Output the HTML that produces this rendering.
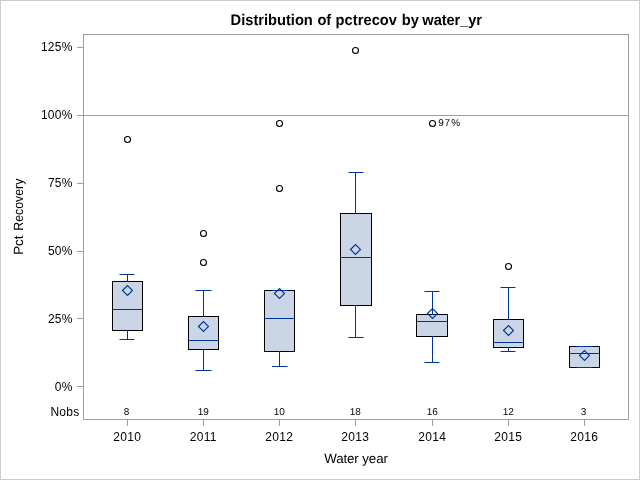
<!DOCTYPE html>
<html><head><meta charset="utf-8"><title>Distribution of pctrecov by water_yr</title>
<style>html,body{margin:0;padding:0;background:#fff;width:640px;height:480px;overflow:hidden}</style>
</head><body>
<svg width="640" height="480" viewBox="0 0 640 480" style="display:block;position:absolute;left:0;top:0">
<rect x="0" y="0" width="640" height="480" fill="#fff"/>
<rect x="0.5" y="0.5" width="639" height="479" fill="none" stroke="#CCCCCC" stroke-width="1"/>
<line x1="84" y1="115.5" x2="628" y2="115.5" stroke="#989EA1" stroke-width="1"/>
<rect x="83.5" y="34.5" width="545" height="385" fill="none" stroke="#989EA1" stroke-width="1"/>
<line x1="77" y1="47.5" x2="83" y2="47.5" stroke="#989EA1" stroke-width="1"/>
<line x1="77" y1="115.5" x2="83" y2="115.5" stroke="#989EA1" stroke-width="1"/>
<line x1="77" y1="183.5" x2="83" y2="183.5" stroke="#989EA1" stroke-width="1"/>
<line x1="77" y1="251.5" x2="83" y2="251.5" stroke="#989EA1" stroke-width="1"/>
<line x1="77" y1="318.5" x2="83" y2="318.5" stroke="#989EA1" stroke-width="1"/>
<line x1="77" y1="386.5" x2="83" y2="386.5" stroke="#989EA1" stroke-width="1"/>
<line x1="127.5" y1="420" x2="127.5" y2="425.8" stroke="#989EA1" stroke-width="1"/>
<line x1="203.5" y1="420" x2="203.5" y2="425.8" stroke="#989EA1" stroke-width="1"/>
<line x1="279.5" y1="420" x2="279.5" y2="425.8" stroke="#989EA1" stroke-width="1"/>
<line x1="355.5" y1="420" x2="355.5" y2="425.8" stroke="#989EA1" stroke-width="1"/>
<line x1="432.5" y1="420" x2="432.5" y2="425.8" stroke="#989EA1" stroke-width="1"/>
<line x1="508.5" y1="420" x2="508.5" y2="425.8" stroke="#989EA1" stroke-width="1"/>
<line x1="584.5" y1="420" x2="584.5" y2="425.8" stroke="#989EA1" stroke-width="1"/>
<rect x="112.5" y="281.5" width="30.0" height="49.0" fill="#CAD5E5" stroke="#000" stroke-width="1"/>
<line x1="112.3" y1="309.5" x2="142.7" y2="309.5" stroke="#003399" stroke-width="1"/>
<line x1="127.5" y1="274.5" x2="127.5" y2="282.0" stroke="#003399" stroke-width="1"/>
<line x1="127.5" y1="330.0" x2="127.5" y2="339.5" stroke="#003399" stroke-width="1"/>
<line x1="119.5" y1="274.5" x2="134.5" y2="274.5" stroke="#003399" stroke-width="1"/>
<line x1="119.5" y1="339.5" x2="134.5" y2="339.5" stroke="#003399" stroke-width="1"/>
<path d="M122.5 290.5L127.5 285.5L132.5 290.5L127.5 295.5Z" fill="none" stroke="#003399" stroke-width="1.12"/>
<rect x="188.5" y="316.5" width="30.0" height="33.0" fill="#CAD5E5" stroke="#000" stroke-width="1"/>
<line x1="188.3" y1="340.5" x2="218.7" y2="340.5" stroke="#003399" stroke-width="1"/>
<line x1="203.5" y1="290.5" x2="203.5" y2="317.0" stroke="#003399" stroke-width="1"/>
<line x1="203.5" y1="349.0" x2="203.5" y2="370.5" stroke="#003399" stroke-width="1"/>
<line x1="195.5" y1="290.5" x2="211.5" y2="290.5" stroke="#003399" stroke-width="1"/>
<line x1="195.5" y1="370.5" x2="211.5" y2="370.5" stroke="#003399" stroke-width="1"/>
<path d="M198.5 326.5L203.5 321.5L208.5 326.5L203.5 331.5Z" fill="none" stroke="#003399" stroke-width="1.12"/>
<rect x="264.5" y="290.5" width="30.0" height="61.0" fill="#CAD5E5" stroke="#000" stroke-width="1"/>
<line x1="264.3" y1="318.5" x2="294.7" y2="318.5" stroke="#003399" stroke-width="1"/>
<line x1="279.5" y1="351.0" x2="279.5" y2="366.5" stroke="#003399" stroke-width="1"/>
<line x1="272.0" y1="290.5" x2="287.5" y2="290.5" stroke="#003399" stroke-width="1"/>
<line x1="272.0" y1="366.5" x2="287.5" y2="366.5" stroke="#003399" stroke-width="1"/>
<path d="M274.5 293.5L279.5 288.5L284.5 293.5L279.5 298.5Z" fill="none" stroke="#003399" stroke-width="1.12"/>
<rect x="340.5" y="213.5" width="31.0" height="92.0" fill="#CAD5E5" stroke="#000" stroke-width="1"/>
<line x1="340.3" y1="257.5" x2="371.7" y2="257.5" stroke="#003399" stroke-width="1"/>
<line x1="355.5" y1="172.5" x2="355.5" y2="214.0" stroke="#003399" stroke-width="1"/>
<line x1="355.5" y1="305.0" x2="355.5" y2="337.5" stroke="#003399" stroke-width="1"/>
<line x1="348.5" y1="172.5" x2="363.5" y2="172.5" stroke="#003399" stroke-width="1"/>
<line x1="348.5" y1="337.5" x2="363.5" y2="337.5" stroke="#003399" stroke-width="1"/>
<path d="M350.5 249.5L355.5 244.5L360.5 249.5L355.5 254.5Z" fill="none" stroke="#003399" stroke-width="1.12"/>
<rect x="416.5" y="314.5" width="31.0" height="22.0" fill="#CAD5E5" stroke="#000" stroke-width="1"/>
<line x1="416.3" y1="321.5" x2="447.7" y2="321.5" stroke="#003399" stroke-width="1"/>
<line x1="432.5" y1="291.5" x2="432.5" y2="315.0" stroke="#003399" stroke-width="1"/>
<line x1="432.5" y1="336.0" x2="432.5" y2="362.5" stroke="#003399" stroke-width="1"/>
<line x1="424.5" y1="291.5" x2="439.5" y2="291.5" stroke="#003399" stroke-width="1"/>
<line x1="424.5" y1="362.5" x2="439.5" y2="362.5" stroke="#003399" stroke-width="1"/>
<path d="M427.5 313.5L432.5 308.5L437.5 313.5L432.5 318.5Z" fill="none" stroke="#003399" stroke-width="1.12"/>
<rect x="493.5" y="319.5" width="30.0" height="28.0" fill="#CAD5E5" stroke="#000" stroke-width="1"/>
<line x1="493.3" y1="342.5" x2="523.7" y2="342.5" stroke="#003399" stroke-width="1"/>
<line x1="508.5" y1="287.5" x2="508.5" y2="320.0" stroke="#003399" stroke-width="1"/>
<line x1="508.5" y1="347.0" x2="508.5" y2="351.5" stroke="#003399" stroke-width="1"/>
<line x1="500.5" y1="287.5" x2="515.5" y2="287.5" stroke="#003399" stroke-width="1"/>
<line x1="500.5" y1="351.5" x2="515.5" y2="351.5" stroke="#003399" stroke-width="1"/>
<path d="M503.5 330.5L508.5 325.5L513.5 330.5L508.5 335.5Z" fill="none" stroke="#003399" stroke-width="1.12"/>
<rect x="569.5" y="346.5" width="30.0" height="21.0" fill="#CAD5E5" stroke="#000" stroke-width="1"/>
<line x1="569.3" y1="353.5" x2="599.7" y2="353.5" stroke="#003399" stroke-width="1"/>
<line x1="576.5" y1="346.5" x2="592.5" y2="346.5" stroke="#003399" stroke-width="1"/>
<line x1="576.5" y1="367.5" x2="592.5" y2="367.5" stroke="#003399" stroke-width="1"/>
<path d="M579.5 355.5L584.5 350.5L589.5 355.5L584.5 360.5Z" fill="none" stroke="#003399" stroke-width="1.12"/>
<circle cx="127.5" cy="139.5" r="3" fill="none" stroke="#000" stroke-width="1.1"/>
<circle cx="203.5" cy="233.5" r="3" fill="none" stroke="#000" stroke-width="1.1"/>
<circle cx="203.5" cy="262.5" r="3" fill="none" stroke="#000" stroke-width="1.1"/>
<circle cx="279.5" cy="123.5" r="3" fill="none" stroke="#000" stroke-width="1.1"/>
<circle cx="279.5" cy="188.5" r="3" fill="none" stroke="#000" stroke-width="1.1"/>
<circle cx="355.5" cy="50.5" r="3" fill="none" stroke="#000" stroke-width="1.1"/>
<circle cx="432.5" cy="123.5" r="3" fill="none" stroke="#000" stroke-width="1.1"/>
<circle cx="508.5" cy="266.5" r="3" fill="none" stroke="#000" stroke-width="1.1"/>
<text transform="translate(0,25) scale(1,1.05)" text-rendering="geometricPrecision" font-family="Liberation Sans, Arial, sans-serif" font-size="14.67" font-weight="bold" fill="#000"><tspan x="230.6">Distribution</tspan> <tspan x="317.4">of</tspan> <tspan x="335.5" letter-spacing="0.06">pctrecov</tspan> <tspan x="401.7">by</tspan> <tspan x="422.35" letter-spacing="-0.1">water_yr</tspan></text>
<text x="72.8" y="50.8" text-anchor="end" font-family="Liberation Sans, Arial, sans-serif" font-size="12" letter-spacing="0.3" fill="#000">125%</text>
<text x="72.8" y="118.8" text-anchor="end" font-family="Liberation Sans, Arial, sans-serif" font-size="12" letter-spacing="0.3" fill="#000">100%</text>
<text x="72.8" y="186.8" text-anchor="end" font-family="Liberation Sans, Arial, sans-serif" font-size="12" letter-spacing="0.3" fill="#000">75%</text>
<text x="72.8" y="254.8" text-anchor="end" font-family="Liberation Sans, Arial, sans-serif" font-size="12" letter-spacing="0.3" fill="#000">50%</text>
<text x="72.8" y="322.8" text-anchor="end" font-family="Liberation Sans, Arial, sans-serif" font-size="12" letter-spacing="0.3" fill="#000">25%</text>
<text x="72.8" y="390.6" text-anchor="end" font-family="Liberation Sans, Arial, sans-serif" font-size="12" letter-spacing="0.3" fill="#000">0%</text>
<text x="127.3" y="440.8" text-anchor="middle" font-family="Liberation Sans, Arial, sans-serif" font-size="12" letter-spacing="0.3" fill="#000">2010</text>
<text x="203.3" y="440.8" text-anchor="middle" font-family="Liberation Sans, Arial, sans-serif" font-size="12" letter-spacing="0.3" fill="#000">2011</text>
<text x="279.3" y="440.8" text-anchor="middle" font-family="Liberation Sans, Arial, sans-serif" font-size="12" letter-spacing="0.3" fill="#000">2012</text>
<text x="355.3" y="440.8" text-anchor="middle" font-family="Liberation Sans, Arial, sans-serif" font-size="12" letter-spacing="0.3" fill="#000">2013</text>
<text x="432.3" y="440.8" text-anchor="middle" font-family="Liberation Sans, Arial, sans-serif" font-size="12" letter-spacing="0.3" fill="#000">2014</text>
<text x="508.3" y="440.8" text-anchor="middle" font-family="Liberation Sans, Arial, sans-serif" font-size="12" letter-spacing="0.3" fill="#000">2015</text>
<text x="584.3" y="440.8" text-anchor="middle" font-family="Liberation Sans, Arial, sans-serif" font-size="12" letter-spacing="0.3" fill="#000">2016</text>
<text x="126.6" y="415" text-anchor="middle" text-rendering="geometricPrecision" font-family="Liberation Sans, Arial, sans-serif" font-size="10" letter-spacing="0" fill="#000">8</text>
<text x="203.3" y="415" text-anchor="middle" text-rendering="geometricPrecision" font-family="Liberation Sans, Arial, sans-serif" font-size="10" letter-spacing="0" fill="#000">19</text>
<text x="279.3" y="415" text-anchor="middle" text-rendering="geometricPrecision" font-family="Liberation Sans, Arial, sans-serif" font-size="10" letter-spacing="0" fill="#000">10</text>
<text x="355.3" y="415" text-anchor="middle" text-rendering="geometricPrecision" font-family="Liberation Sans, Arial, sans-serif" font-size="10" letter-spacing="0" fill="#000">18</text>
<text x="432.3" y="415" text-anchor="middle" text-rendering="geometricPrecision" font-family="Liberation Sans, Arial, sans-serif" font-size="10" letter-spacing="0" fill="#000">16</text>
<text x="508.3" y="415" text-anchor="middle" text-rendering="geometricPrecision" font-family="Liberation Sans, Arial, sans-serif" font-size="10" letter-spacing="0" fill="#000">12</text>
<text x="583.6" y="415" text-anchor="middle" text-rendering="geometricPrecision" font-family="Liberation Sans, Arial, sans-serif" font-size="10" letter-spacing="0" fill="#000">3</text>
<text x="79.6" y="415.5" text-anchor="end" font-family="Liberation Sans, Arial, sans-serif" font-size="12" letter-spacing="0.3" fill="#000">Nobs</text>
<text x="438.3 444.4 451.2" y="125.9" text-rendering="geometricPrecision" font-family="Liberation Sans, Arial, sans-serif" font-size="10" fill="#000">97%</text>
<text x="356" y="463" text-anchor="middle" text-rendering="geometricPrecision" font-family="Liberation Sans, Arial, sans-serif" font-size="13.33" letter-spacing="-0.1" fill="#000">Water year</text>
<text transform="translate(23.0,254.8) rotate(-90)" text-rendering="geometricPrecision" font-family="Liberation Sans, Arial, sans-serif" font-size="13.33" fill="#000">Pct</text>
<text transform="translate(23.0,230.7) rotate(-90) scale(0.924,1)" text-rendering="geometricPrecision" font-family="Liberation Sans, Arial, sans-serif" font-size="13.33" fill="#000">Recovery</text>
</svg>
</body></html>
